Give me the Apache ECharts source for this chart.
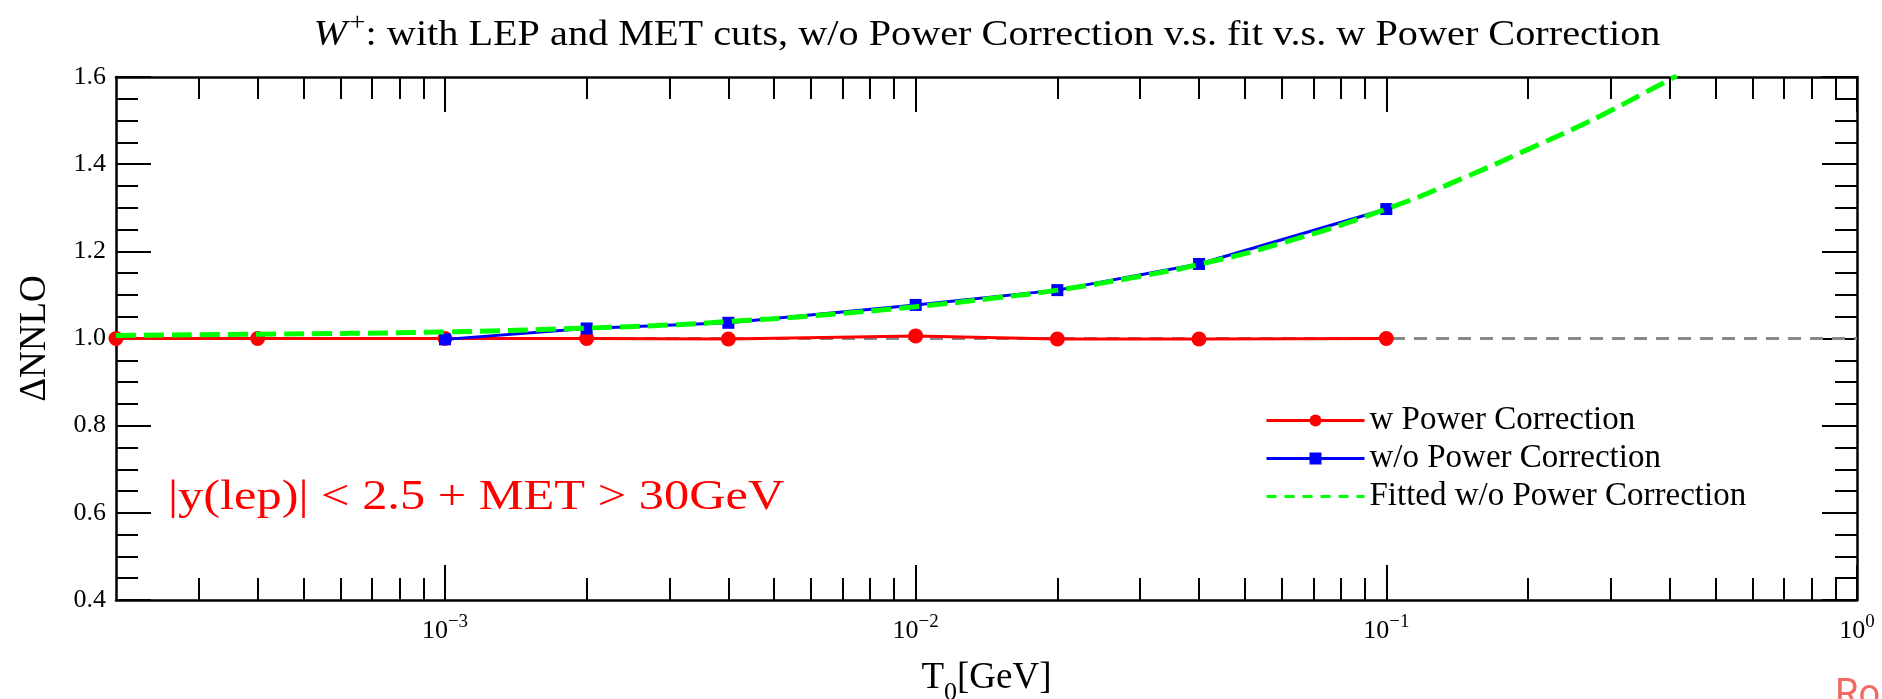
<!DOCTYPE html>
<html>
<head>
<meta charset="utf-8">
<script src="https://cdn.jsdelivr.net/npm/echarts@6/dist/echarts.min.js"></script>
<style>
html, body { margin: 0; padding: 0; background: #fff; }
#main { width: 1882px; height: 699px; }
</style>
</head>
<body>
<div id="main"></div>
<script>
// T0 [GeV] 取样点
const t0Points = [2e-4, 4e-4, 1e-3, 2e-3, 4e-3, 1e-2, 2e-2, 4e-2, 1e-1];
const withPower = [1.000, 1.000, 1.000, 1.000, 0.999, 1.006, 0.999, 0.999, 1.000];

const t0NoPower = [1e-3, 2e-3, 4e-3, 1e-2, 2e-2, 4e-2, 1e-1];
const withoutPower = [0.998, 1.023, 1.036, 1.077, 1.111, 1.171, 1.297];

// fitted curve
const t0Fit = [2e-4, 4e-4, 1e-3, 2e-3, 3e-3, 4e-3, 6e-3, 1e-2, 1.5e-2, 2e-2, 3e-2, 4e-2, 6e-2, 0.1, 0.15, 0.2, 0.25, 0.3, 0.35, 0.4, 0.414];
const fitted = [1.007, 1.010, 1.015, 1.024, 1.031, 1.039, 1.052, 1.073, 1.094, 1.111, 1.143, 1.170, 1.219, 1.297, 1.374, 1.434, 1.481, 1.523, 1.561, 1.594, 1.603];

// reference line at 1
const refX = [2e-4, 1];
const refY = [1, 1];

// axis ticks
const majorTicks = [1e-3, 1e-2, 1e-1, 1];
const minorTicks = [
  3e-4, 4e-4, 5e-4, 6e-4, 7e-4, 8e-4, 9e-4,
  2e-3, 3e-3, 4e-3, 5e-3, 6e-3, 7e-3, 8e-3, 9e-3,
  2e-2, 3e-2, 4e-2, 5e-2, 6e-2, 7e-2, 8e-2, 9e-2,
  2e-1, 3e-1, 4e-1, 5e-1, 6e-1, 7e-1, 8e-1, 9e-1
];
const yMin = 0.4;
const yMax = 1.6;
const yStep = 0.2;

const serif = 'Liberation Serif';
const zip = (xs, ys) => xs.map((x, i) => [x, ys[i]]);

const chartDom = document.getElementById('main');
const myChart = echarts.init(chartDom);

const frameLine = { show: true, lineStyle: { color: '#000', width: 2.5 } };

function logXAxis(position, ticks, len, withLabel) {
  return {
    type: 'log',
    logBase: 10,
    position: position,
    min: 2e-4,
    max: 1,
    axisLine: withLabel !== null ? frameLine : { show: false },
    axisTick: {
      show: true,
      inside: true,
      length: len,
      customValues: ticks,
      lineStyle: { color: '#000', width: 2 },
    },
    axisLabel: withLabel ? {
      show: true,
      customValues: majorTicks,
      margin: 13,
      formatter: v => {
        const e = Math.round(Math.log10(v));
        return '{b|10}{s|' + (e < 0 ? '\u2212' + (-e) : e) + '}';
      },
      rich: {
        b: { fontFamily: serif, fontSize: 26, color: '#000', verticalAlign: 'bottom' },
        s: { fontFamily: serif, fontSize: 19, color: '#000', verticalAlign: 'bottom', padding: [0, 0, 12, 0] },
      },
    } : { show: false },
    splitLine: { show: false },
    minorTick: { show: false },
  };
}

const xMain = logXAxis('bottom', majorTicks, 35, true);
xMain.name = '{b|T}{s|0}{b|[GeV]}';
xMain.nameLocation = 'middle';
xMain.nameGap = 60;
xMain.nameTextStyle = {
  rich: {
    b: { fontFamily: serif, fontSize: 37, color: '#000', verticalAlign: 'bottom', padding: [0, 0, 9, 0] },
    s: { fontFamily: serif, fontSize: 26, color: '#000', verticalAlign: 'bottom' },
  },
};

function valueYAxis(position, withLabel) {
  return {
    type: 'value',
    position: position,
    min: yMin,
    max: yMax,
    interval: yStep,
    axisLine: frameLine,
    axisTick: { show: true, inside: true, length: 35, lineStyle: { color: '#000', width: 2 } },
    minorTick: { show: true, splitNumber: 4, length: 22, lineStyle: { color: '#000', width: 2 } },
    axisLabel: withLabel ? {
      show: true,
      margin: 10,
      fontFamily: serif,
      fontSize: 26,
      color: '#000',
      formatter: v => v.toFixed(1),
    } : { show: false },
    splitLine: { show: false },
    minorSplitLine: { show: false },
  };
}

const yMain = valueYAxis('left', true);
yMain.name = '\u0394NNLO';
yMain.nameLocation = 'middle';
yMain.nameRotate = 90;
yMain.nameGap = 62;
yMain.nameTextStyle = { fontFamily: serif, fontSize: 37, color: '#000' };

const option = {
  backgroundColor: '#fff',
  animation: false,
  grid: { left: 116, right: 25, top: 77, bottom: 99, containLabel: false, outerBoundsMode: 'none' },
  xAxis: [
    xMain,
    logXAxis('bottom', minorTicks, 22, null),
    logXAxis('top', majorTicks, 35, false),
    logXAxis('top', minorTicks, 22, null),
  ],
  yAxis: [yMain, valueYAxis('right', false)],
  legend: {
    orient: 'vertical',
    left: 1260,
    top: 399,
    itemWidth: 98,
    itemHeight: 15,
    itemGap: 5,
    textStyle: { fontFamily: serif, fontSize: 33, color: '#000' },
    data: [
      { name: 'w Power Correction', lineStyle: { width: 3 } },
      { name: 'w/o Power Correction', lineStyle: { width: 3 } },
      { name: 'Fitted w/o Power Correction', lineStyle: { width: 3, type: [10, 8] }, itemStyle: { opacity: 0 } },
    ],
  },
  series: [
    {
      name: 'ref',
      type: 'line',
      data: zip(refX, refY),
      showSymbol: false,
      silent: true,
      z: 1,
      lineStyle: { color: '#888', width: 3, type: [13, 9] },
    },
    {
      name: 'w Power Correction',
      type: 'line',
      data: zip(t0Points, withPower),
      symbol: 'circle',
      symbolSize: 15,
      z: 2,
      itemStyle: { color: '#ff0000' },
      lineStyle: { color: '#ff0000', width: 3 },
    },
    {
      name: 'w/o Power Correction',
      type: 'line',
      data: zip(t0NoPower, withoutPower),
      symbol: 'rect',
      symbolSize: 12,
      z: 3,
      itemStyle: { color: '#0000ff' },
      lineStyle: { color: '#0000ff', width: 3 },
    },
    {
      name: 'Fitted w/o Power Correction',
      type: 'line',
      data: zip(t0Fit, fitted),
      smooth: true,
      symbol: 'none',
      z: 4,
      itemStyle: { color: '#00ff00' },
      lineStyle: { color: '#00ff00', width: 5, type: [20, 8] },
    },
  ],
  graphic: [
    {
      type: 'text',
      x: 987,
      y: 32,
      scaleX: 1.15,
      style: {
        text: '{i|W}{p|+}{n|: with LEP and MET cuts, w/o Power Correction v.s. fit v.s. w Power Correction}',
        align: 'center',
        verticalAlign: 'middle',
        rich: {
          i: { fontFamily: serif, fontSize: 35, fontStyle: 'italic', fill: '#000', verticalAlign: 'bottom' },
          p: { fontFamily: serif, fontSize: 25, fill: '#000', verticalAlign: 'bottom', padding: [0, 0, 17, 2] },
          n: { fontFamily: serif, fontSize: 35, fill: '#000', verticalAlign: 'bottom' },
        },
      },
    },
    {
      type: 'text',
      x: 168,
      y: 498,
      scaleX: 1.2,
      style: {
        text: '|y(lep)| < 2.5 + MET > 30GeV',
        fontFamily: serif,
        fontSize: 42,
        fill: '#ff0000',
        align: 'left',
        verticalAlign: 'middle',
      },
    },
    {
      type: 'text',
      x: 1835,
      y: 677,
      style: {
        text: 'Ro',
        fontFamily: 'Roboto',
        fontSize: 38,
        fill: '#f26a62',
        align: 'left',
        verticalAlign: 'top',
      },
    },
  ],
};

myChart.setOption(option);
</script>
</body>
</html>
